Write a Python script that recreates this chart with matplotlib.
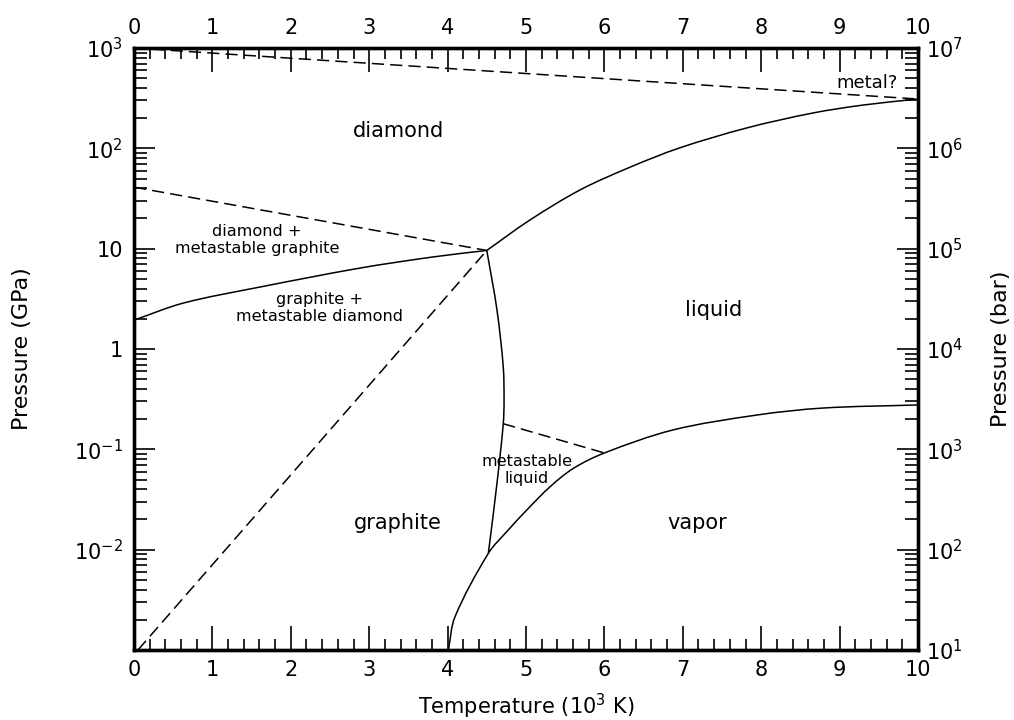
import numpy as np
import matplotlib
matplotlib.use("Agg")
import matplotlib.pyplot as plt
from matplotlib.path import Path
from matplotlib.patches import PathPatch
from matplotlib.ticker import FixedLocator, LogLocator, MultipleLocator, NullFormatter

# --- phase boundaries (T in 10^3 K, P in GPa) ---
# graphite / diamond equilibrium line
gd_T = [0.0, 0.63, 1.61, 2.88, 3.81, 4.5]
gd_P = [1.94, 2.87, 4.15, 6.4, 8.26, 9.6]

# diamond / liquid melting line
dl_T = [4.5, 5.05, 5.69, 6.33, 6.96, 7.82, 8.66, 9.30, 10.0]
dl_P = [9.6, 19.3, 38.5, 65, 101, 160, 225, 270, 310]

# graphite / liquid melting line
gl_T = [4.5, 4.63, 4.71, 4.72, 4.71, 4.63, 4.52]
gl_P = [9.6, 2.44, 0.66, 0.31, 0.18, 0.046, 0.0092]

# sublimation / vaporization line
vap_T = [4.01, 4.094, 4.52, 4.754, 5.009, 5.306, 5.603, 6.0, 6.875, 7.95, 8.79, 10.0]
vap_P = [0.001, 0.00214, 0.0092, 0.0151, 0.0248, 0.0423, 0.0645, 0.092,
         0.156, 0.22, 0.258, 0.277]

# metastable extensions (dashed)
metal_T = [0.0, 10.0]
metal_P = [1000, 310]
dia_meta_T = [0.0, 4.5]
dia_meta_P = [41, 9.6]
gra_meta_T = [0.05, 4.5]
gra_meta_P = [0.001, 9.6]
liq_meta_T = [4.71, 6.0]
liq_meta_P = [0.18, 0.092]

# region names
region_text = ["diamond", "diamond +\nmetastable graphite", "graphite +\nmetastable diamond",
               "liquid", "metastable\nliquid", "graphite", "vapor", "metal?"]
region_T = [3.37, 1.57, 2.37, 7.39, 5.01, 3.37, 7.18, 9.35]
region_P = [148, 12.2, 2.57, 2.45, 0.062, 0.0184, 0.0184, 447]
region_size = [15, 11.6, 11.6, 15, 11.6, 15, 15, 13]

# tick labels
gpa_ticks = [1e-3, 1e-2, 1e-1, 1, 10, 1e2, 1e3]
gpa_labels = ["", "$10^{-2}$", "$10^{-1}$", "1", "10", "$10^2$", "$10^3$"]
bar_ticks = [1e1, 1e2, 1e3, 1e4, 1e5, 1e6, 1e7]
bar_labels = ["$10^1$", "$10^2$", "$10^3$", "$10^4$", "$10^5$", "$10^6$", "$10^7$"]


def smooth_curve(T, P, sx=78.4, sy=100.3):
    """Cubic Hermite curve (chord-length tangents) through the points in (T, log P)."""
    pts = np.column_stack([np.asarray(T, float) * sx, np.log10(P) * sy])
    n = len(pts)
    t = np.concatenate([[0], np.cumsum(np.hypot(*np.diff(pts, axis=0).T))])
    tang = np.zeros_like(pts)
    for i in range(n):
        a, b = max(i - 1, 0), min(i + 1, n - 1)
        tang[i] = (pts[b] - pts[a]) / (t[b] - t[a])
    verts = [pts[0]]
    codes = [Path.MOVETO]
    for i in range(n - 1):
        h = t[i + 1] - t[i]
        verts += [pts[i] + tang[i] * h / 3, pts[i + 1] - tang[i + 1] * h / 3, pts[i + 1]]
        codes += [Path.CURVE4] * 3
    verts = np.array(verts)
    verts[:, 0] /= sx
    verts[:, 1] = 10 ** (verts[:, 1] / sy)
    return Path(verts, codes)


plt.rcParams['font.family'] = ['DejaVu Sans']
plt.rcParams['mathtext.fontset'] = 'dejavusans'

fig = plt.figure(figsize=(10.14, 7.2), dpi=100)
ax = fig.add_axes([134 / 1014, 1 - 650 / 720, 784 / 1014, 602 / 720])
ax.set_yscale("log")
ax.set_xlim(0, 10)
ax.set_ylim(1e-3, 1e3)

lw = 1.1
for T, P in [(gd_T, gd_P), (dl_T, dl_P), (gl_T, gl_P), (vap_T, vap_P)]:
    ax.add_patch(PathPatch(smooth_curve(T, P), fill=False, edgecolor="black", lw=lw))
for T, P in [(metal_T, metal_P), (dia_meta_T, dia_meta_P),
             (gra_meta_T, gra_meta_P), (liq_meta_T, liq_meta_P)]:
    ax.plot(T, P, color="black", lw=lw, ls=(0, (8, 4)))

for txt, T, P, fs in zip(region_text, region_T, region_P, region_size):
    ax.text(T, P, txt, ha="center", va="center", fontsize=fs, linespacing=1.2)

# x axis: labels top and bottom, ticks inward
ax.xaxis.set_major_locator(MultipleLocator(1))
ax.xaxis.set_minor_locator(MultipleLocator(0.2))
ax.tick_params(axis="x", which="both", direction="in", top=True, bottom=True,
               labeltop=True, labelbottom=True, labelsize=15, pad=7)
ax.tick_params(axis="x", which="major", length=17, width=1.2)
ax.tick_params(axis="x", which="minor", length=8, width=1.2)

ax.yaxis.set_major_locator(FixedLocator(gpa_ticks))
ax.set_yticklabels(gpa_labels)
ax.yaxis.set_minor_locator(LogLocator(base=10, subs=range(2, 10), numticks=20))
ax.yaxis.set_minor_formatter(NullFormatter())
ax.tick_params(axis="y", which="both", direction="in", left=True, right=False,
               labelsize=15, pad=8)
ax.tick_params(axis="y", which="major", length=15, width=1.2)
ax.tick_params(axis="y", which="minor", length=9.5, width=1.2)

ax2 = ax.twinx()
ax2.set_yscale("log")
ax2.set_ylim(1e1, 1e7)
ax2.yaxis.set_major_locator(FixedLocator(bar_ticks))
ax2.set_yticklabels(bar_labels)
ax2.yaxis.set_minor_locator(LogLocator(base=10, subs=range(2, 10), numticks=20))
ax2.yaxis.set_minor_formatter(NullFormatter())
ax2.tick_params(axis="y", which="both", direction="in", labelsize=15, pad=6)
ax2.tick_params(axis="y", which="major", length=15, width=1.2)
ax2.tick_params(axis="y", which="minor", length=9.5, width=1.2)

for a in (ax, ax2):
    for s in a.spines.values():
        s.set_linewidth(2.4)

ax.set_xlabel("Temperature (10$^3$ K)", fontsize=15, labelpad=9)
ax.set_ylabel("Pressure (GPa)", fontsize=16, labelpad=30)
ax2.set_ylabel("Pressure (bar)", fontsize=16, labelpad=20)

fig.savefig("out.png", dpi=100)
